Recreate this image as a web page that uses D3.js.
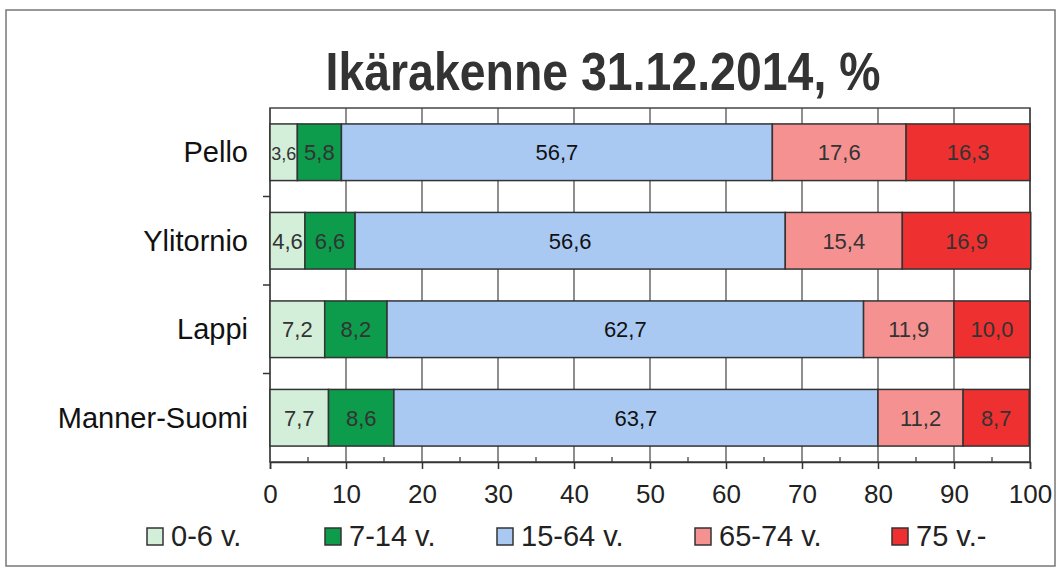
<!DOCTYPE html>
<html>
<head>
<meta charset="utf-8">
<script src="https://cdn.jsdelivr.net/npm/d3@7"></script>
<style>
  body { margin: 0; background: #fff; }
  text { font-family: "Liberation Sans", Arial, sans-serif; }
</style>
</head>
<body>
<svg width="1061" height="571"></svg>
<script>
var regions = ["Pello", "Ylitornio", "Lappi", "Manner-Suomi"];
var groups = ["0-6 v.", "7-14 v.", "15-64 v.", "65-74 v.", "75 v.-"];
var groupColors = ["#d3efd9", "#0c9c4c", "#a9c9f3", "#f69191", "#ef3030"];
var age0_6 = [3.6, 4.6, 7.2, 7.7];
var age7_14 = [5.8, 6.6, 8.2, 8.6];
var age15_64 = [56.7, 56.6, 62.7, 63.7];
var age65_74 = [17.6, 15.4, 11.9, 11.2];
var age75 = [16.3, 16.9, 10.0, 8.7];
var xTicks = [0, 10, 20, 30, 40, 50, 60, 70, 80, 90, 100];

var svg = d3.select("svg"),
    margin = {left: 270, right: 31, top: 108, bottom: 109},
    width = 1061 - margin.left - margin.right,
    height = 571 - margin.top - margin.bottom;

// outer frame
svg.append("rect")
  .attr("x", 6).attr("y", 10)
  .attr("width", 1049).attr("height", 556)
  .attr("fill", "none").attr("stroke", "#777").attr("stroke-width", 1.5);

svg.append("text")
  .attr("x", 603).attr("y", 90)
  .attr("text-anchor", "middle")
  .attr("font-size", 54)
  .attr("font-weight", "bold")
  .attr("fill", "#333")
  .attr("textLength", 555)
  .attr("lengthAdjust", "spacingAndGlyphs")
  .text("Ikärakenne 31.12.2014, %");

var g = svg.append("g").attr("transform", "translate(" + margin.left + "," + margin.top + ")");

var x = d3.scaleLinear().domain([0, 100]).range([0, width]);
var y = d3.scaleBand().domain(regions).range([0, height]).paddingInner(0.36).paddingOuter(0.18);

// rows of the stack
var series = [age0_6, age7_14, age15_64, age65_74, age75];
var rows = regions.map(function(r, i) {
  var row = {region: r};
  groups.forEach(function(k, j) { row[k] = series[j][i]; });
  return row;
});
var stacked = d3.stack().keys(groups)(rows);

// grid lines
g.append("g").selectAll("line")
  .data(xTicks)
  .enter().append("line")
  .attr("x1", function(d) { return x(d); })
  .attr("x2", function(d) { return x(d); })
  .attr("y1", 0).attr("y2", height)
  .attr("stroke", "#444").attr("stroke-width", 1.2);

g.append("rect")
  .attr("width", width).attr("height", height)
  .attr("fill", "none").attr("stroke", "#444").attr("stroke-width", 1.5);

var layer = g.selectAll(".layer")
  .data(stacked)
  .enter().append("g")
  .attr("class", "layer")
  .attr("fill", function(d, i) { return groupColors[i]; });

layer.selectAll("rect")
  .data(function(d) { return d; })
  .enter().append("rect")
  .attr("x", function(d) { return x(d[0]); })
  .attr("width", function(d) { return x(d[1]) - x(d[0]); })
  .attr("y", function(d) { return y(d.data.region); })
  .attr("height", y.bandwidth())
  .attr("stroke", "#333").attr("stroke-width", 1.5);

layer.selectAll("text")
  .data(function(d) { return d.map(function(v) { return {v: v, key: d.key}; }); })
  .enter().append("text")
  .attr("x", function(d) { return (x(d.v[0]) + x(d.v[1])) / 2; })
  .attr("y", function(d) { return y(d.v.data.region) + y.bandwidth() / 2 + 8; })
  .attr("text-anchor", "middle")
  .attr("font-size", function(d) { return d.v.data[d.key] < 4 ? 18 : 22; })
  .attr("fill", function(d) { return d.key == "15-64 v." ? "#111" : "#333"; })
  .text(function(d) { return d3.format(".1f")(d.v.data[d.key]).replace(".", ","); });

// x axis
var xAxis = g.append("g")
  .attr("transform", "translate(0," + height + ")")
  .call(d3.axisBottom(x).tickValues(xTicks).tickSize(7).tickPadding(16));
xAxis.select(".domain").attr("stroke", "#333").attr("stroke-width", 1.5);
xAxis.selectAll("line").attr("stroke", "#333").attr("stroke-width", 1.5);
xAxis.selectAll("text").attr("font-size", 26).attr("fill", "#222")
  .attr("font-family", "'Liberation Sans', Arial, sans-serif");

// minor ticks
g.append("g").selectAll("line")
  .data(d3.range(5, 100, 10))
  .enter().append("line")
  .attr("x1", function(d) { return x(d); })
  .attr("x2", function(d) { return x(d); })
  .attr("y1", height).attr("y2", height - 5)
  .attr("stroke", "#333").attr("stroke-width", 1.2);

// y ticks at band boundaries
g.append("g").selectAll("line")
  .data(regions.slice(1))
  .enter().append("line")
  .attr("x1", -7).attr("x2", 0)
  .attr("y1", function(d) { return y(d) - y.step() * y.paddingInner() / 2; })
  .attr("y2", function(d) { return y(d) - y.step() * y.paddingInner() / 2; })
  .attr("stroke", "#333").attr("stroke-width", 1.5);

// category labels
g.append("g").selectAll("text")
  .data(regions)
  .enter().append("text")
  .attr("x", -22)
  .attr("y", function(d) { return y(d) + y.bandwidth() / 2 + 10; })
  .attr("text-anchor", "end")
  .attr("font-size", 29)
  .attr("fill", "#111")
  .text(function(d) { return d; });

// legend
var legendX = [147, 325, 497, 695, 892];
var legend = svg.append("g").selectAll("g")
  .data(groups)
  .enter().append("g")
  .attr("transform", function(d, i) { return "translate(" + legendX[i] + ",528)"; });
legend.append("rect")
  .attr("width", 16).attr("height", 17)
  .attr("fill", function(d, i) { return groupColors[i]; })
  .attr("stroke", "#333").attr("stroke-width", 1.5);
legend.append("text")
  .attr("x", 24).attr("y", 18)
  .attr("font-size", 29)
  .attr("fill", "#222")
  .text(function(d) { return d; });
</script>
</body>
</html>
